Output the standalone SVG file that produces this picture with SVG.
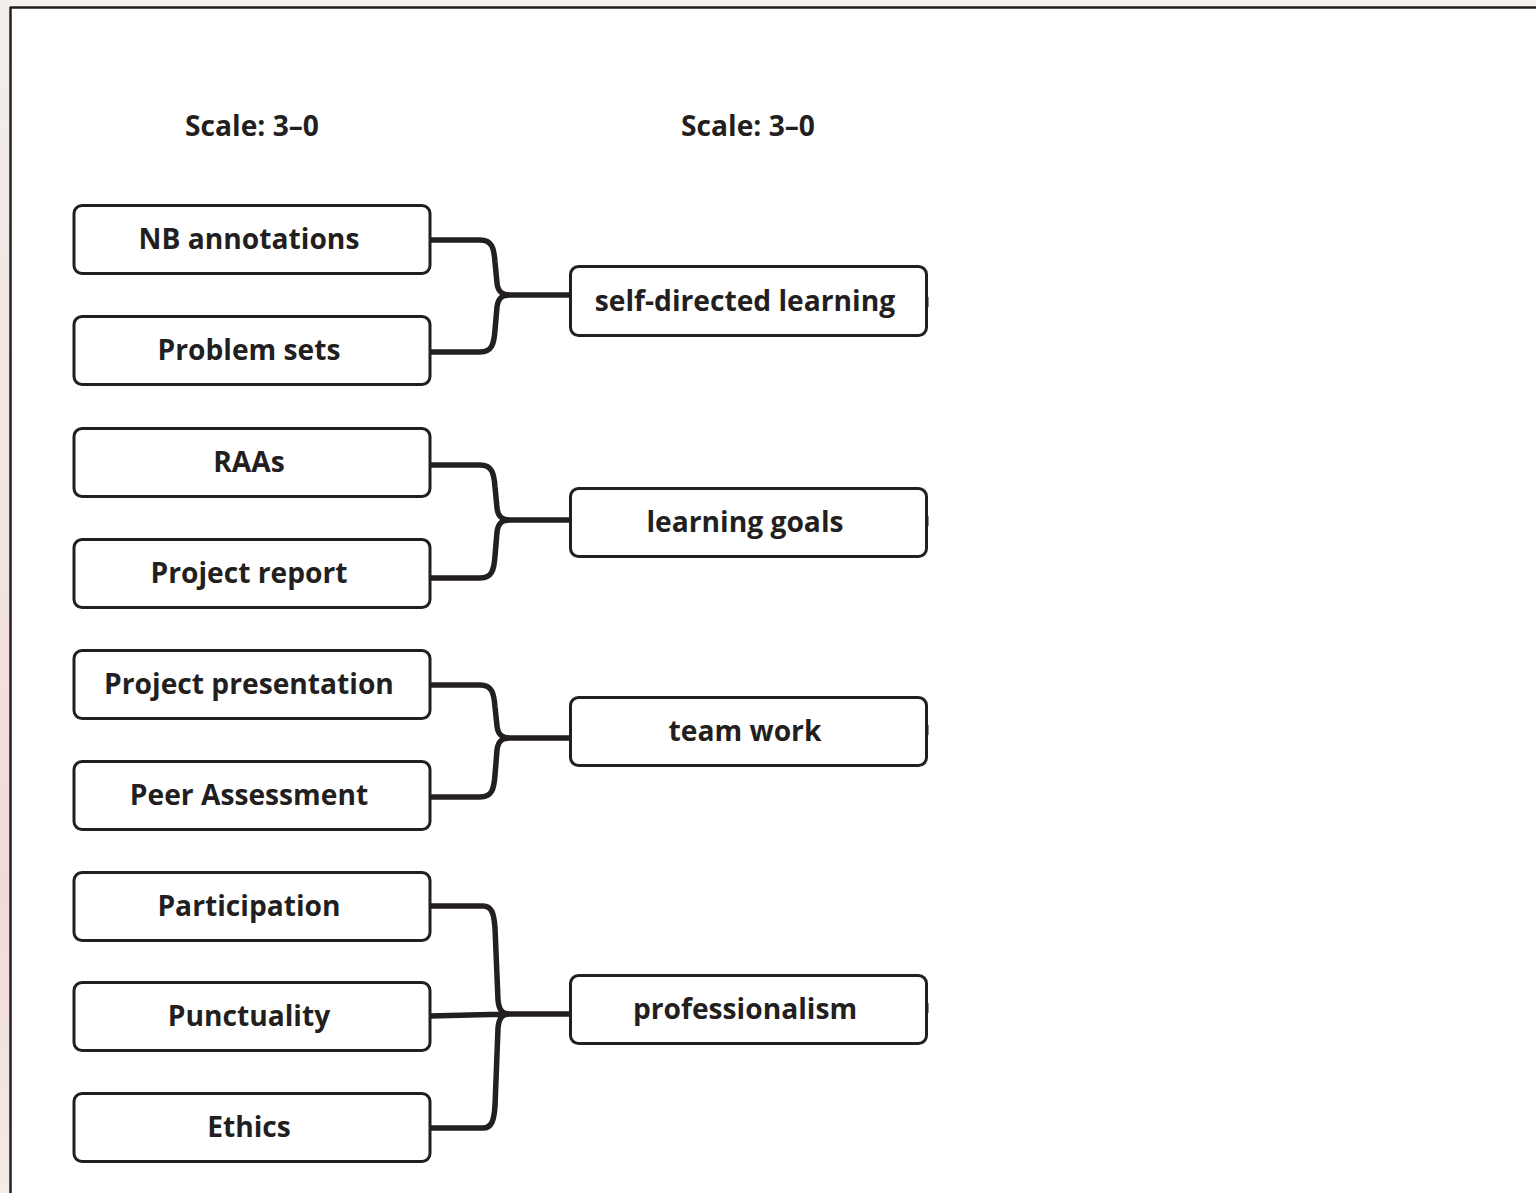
<svg xmlns="http://www.w3.org/2000/svg" width="1536" height="1193" viewBox="0 0 1536 1193">
<defs>
<linearGradient id="side" x1="0" y1="0" x2="0" y2="1">
<stop offset="0" stop-color="#f1eeec"/>
<stop offset="0.5" stop-color="#f3e3e0"/>
<stop offset="0.75" stop-color="#f1d9d9"/>
<stop offset="1" stop-color="#f3ece8"/>
</linearGradient>
</defs>
<style>
.box{fill:#fff;stroke:#231f20;stroke-width:3}
.lbl{font-family:"Open Sans","Liberation Sans",sans-serif;font-weight:700;font-size:28.2px;fill:#231f20;text-anchor:middle}
.con{fill:none;stroke:#231f20;stroke-width:5.5;stroke-linecap:butt;stroke-linejoin:round}
.stub{stroke:#231f20;stroke-width:3}
</style>
<rect x="0" y="0" width="1536" height="1193" fill="#fff"/>
<rect x="0" y="0" width="1536" height="7" fill="#f4f1ef"/>
<rect x="0" y="0" width="10" height="1193" fill="url(#side)"/>
<line x1="10" y1="7.5" x2="1536" y2="7.5" stroke="#231f20" stroke-width="2.5"/>
<line x1="10.5" y1="7" x2="10.5" y2="1193" stroke="#231f20" stroke-width="2.5"/>

<g id="header-left"><text class="lbl" x="252" y="136">Scale: 3–0</text></g>
<g id="header-right"><text class="lbl" x="748" y="136">Scale: 3–0</text></g>

<g id="connectors">
<path class="con" d="M430,240 H480 C492,240 494,248 495,262 L497,283 C498,292 502,295 510,295 M430,352 H480 C492,352 494,344 495,330 L497,307 C498,298 502,295 510,295 M505,295 H571"/>
<path class="con" d="M430,465 H480 C492,465 494,473 495,487 L497,508 C498,517 502,520 510,520 M430,578 H480 C492,578 494,570 495,556 L497,532 C498,523 502,520 510,520 M505,520 H571"/>
<path class="con" d="M430,685 H480 C492,685 494,693 495,707 L497,726 C498,735 502,738 510,738 M430,797 H480 C492,797 494,789 495,775 L497,750 C498,741 502,738 510,738 M505,738 H571"/>
<path class="con" d="M430,906 H483 C492,906 494,914 495,928 L498,1000 C499,1010 502,1014 510,1014 M430,1016 L510,1014 M430,1128 H483 C492,1128 494,1120 495,1106 L498,1028 C499,1018 502,1014 510,1014 M505,1014 H571"/>
</g>

<g id="n-nb"><rect class="box" x="74" y="205.5" width="356" height="68" rx="8"/><text class="lbl" x="249" y="249">NB annotations</text></g>
<g id="n-ps"><rect class="box" x="74" y="316.5" width="356" height="68" rx="8"/><text class="lbl" x="249" y="360">Problem sets</text></g>
<g id="n-raa"><rect class="box" x="74" y="428.5" width="356" height="68" rx="8"/><text class="lbl" x="249" y="472">RAAs</text></g>
<g id="n-pr"><rect class="box" x="74" y="539.5" width="356" height="68" rx="8"/><text class="lbl" x="249" y="583">Project report</text></g>
<g id="n-pp"><rect class="box" x="74" y="650.5" width="356" height="68" rx="8"/><text class="lbl" x="249" y="694">Project presentation</text></g>
<g id="n-pa"><rect class="box" x="74" y="761.5" width="356" height="68" rx="8"/><text class="lbl" x="249" y="805">Peer Assessment</text></g>
<g id="n-part"><rect class="box" x="74" y="872.5" width="356" height="68" rx="8"/><text class="lbl" x="249" y="916">Participation</text></g>
<g id="n-punc"><rect class="box" x="74" y="982.5" width="356" height="68" rx="8"/><text class="lbl" x="249" y="1026">Punctuality</text></g>
<g id="n-eth"><rect class="box" x="74" y="1093.5" width="356" height="68" rx="8"/><text class="lbl" x="249" y="1137">Ethics</text></g>

<g id="n-sdl"><rect class="box" x="570.5" y="266.5" width="356" height="69" rx="8"/><line class="stub" x1="927" y1="297" x2="927" y2="307"/><text class="lbl" x="745" y="311">self-directed learning</text></g>
<g id="n-lg"><rect class="box" x="570.5" y="488.5" width="356" height="68" rx="8"/><line class="stub" x1="927" y1="516" x2="927" y2="526"/><text class="lbl" x="745" y="532">learning goals</text></g>
<g id="n-tw"><rect class="box" x="570.5" y="697.5" width="356" height="68" rx="8"/><line class="stub" x1="927" y1="725" x2="927" y2="735"/><text class="lbl" x="745" y="741">team work</text></g>
<g id="n-prof"><rect class="box" x="570.5" y="975.5" width="356" height="68" rx="8"/><line class="stub" x1="927" y1="1003" x2="927" y2="1013"/><text class="lbl" x="745" y="1019">professionalism</text></g>
</svg>
